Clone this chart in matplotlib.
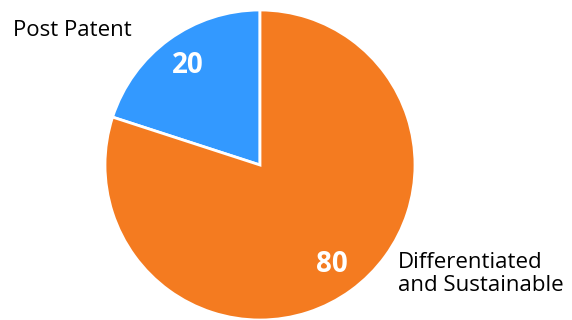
import matplotlib
matplotlib.use("Agg")
import matplotlib.pyplot as plt

# share of portfolio by segment
segments = ["Post Patent", "Differentiated\nand Sustainable"]
shares   = [20, 80]
colors   = ["#3399FF", "#F47B20"]

plt.rcParams["font.family"] = ["Open Sans", "DejaVu Sans"]

fig = plt.figure(figsize=(5.72, 3.2), dpi=100)
ax  = fig.add_axes([0, 0, 1, 1])

wedges, _, autotexts = ax.pie(
    shares, colors=colors, startangle=90, counterclock=True,
    center=(260, 155), radius=155,
    autopct=lambda p: f"{p:.0f}", pctdistance=0.79,
    wedgeprops=dict(edgecolor="white", linewidth=2),
    textprops=dict(color="white", fontsize=20, fontweight="bold"),
)

ax.set_xlim(0, 572)
ax.set_ylim(0, 320)
ax.set_aspect("equal")
ax.axis("off")

# segment names sit outside the pie
ax.text(13, 289, segments[0], fontsize=16, ha="left", va="center", color="black")
ax.text(398, 46, segments[1], fontsize=16, ha="left", va="center",
        color="black", linespacing=1.1)

fig.savefig("out.png", dpi=100)
